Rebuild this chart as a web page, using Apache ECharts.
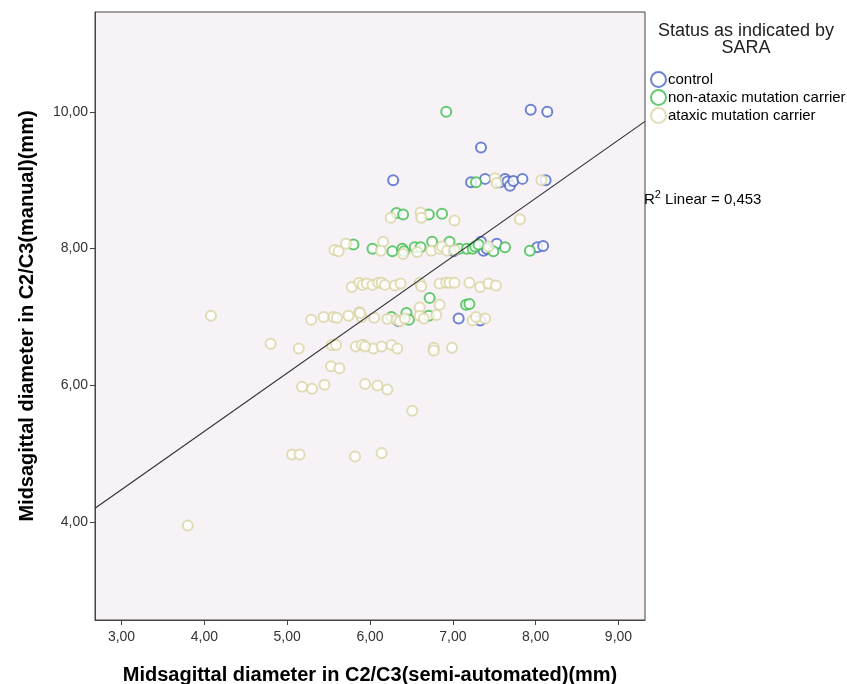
<!DOCTYPE html>
<html><head><meta charset="utf-8">
<script src="https://cdn.jsdelivr.net/npm/echarts@6/dist/echarts.min.js"></script>
<style>html,body{margin:0;padding:0;background:#fff}#c{width:847px;height:684px}</style>
</head><body><div id="c"></div>
<script>
const xTicks = [3, 4, 5, 6, 7, 8, 9];
const yTicks = [4, 6, 8, 10];
const seriesNames = ['control', 'non-ataxic mutation carrier', 'ataxic mutation carrier'];
const control = [[7.94,10.03],[8.14,10.0],[7.34,9.48],[6.28,9.0],[7.22,8.97],[7.39,9.02],[7.57,8.97],[7.63,9.02],[7.66,8.98],[7.69,8.92],[7.73,8.99],[7.84,9.02],[8.12,9.0],[7.01,7.96],[7.30,8.05],[7.34,8.10],[7.37,7.97],[7.41,8.0],[7.53,8.07],[8.02,8.02],[8.09,8.04],[6.34,6.94],[7.07,6.98],[7.33,6.95]];
const nonAtaxic = [[6.92,10.0],[7.28,8.97],[6.32,8.52],[6.40,8.50],[6.71,8.50],[6.87,8.51],[5.80,8.06],[6.03,8.0],[6.27,7.96],[6.39,8.0],[6.41,7.96],[6.54,8.02],[6.61,8.02],[6.75,8.10],[6.96,8.10],[7.08,8.0],[7.17,8.0],[7.24,8.0],[7.27,8.03],[7.31,8.06],[7.49,7.96],[7.63,8.02],[7.93,7.97],[6.72,7.28],[7.16,7.18],[7.20,7.19],[6.26,7.0],[6.44,7.06],[6.47,6.96],[6.71,7.02]];
const ataxic = [[4.08,7.02],[4.80,6.61],[5.14,6.54],[5.29,6.96],[5.44,7.0],[5.56,7.0],[5.60,6.99],[5.74,7.02],[5.87,7.07],[5.90,7.0],[6.05,6.99],
[5.54,6.59],[5.59,6.59],[5.83,6.57],[5.92,6.59],[6.04,6.54],[5.53,6.28],[5.63,6.25],
[5.18,5.98],[5.30,5.95],[5.45,6.01],[5.94,6.02],[6.09,6.0],[6.21,5.94],[6.51,5.63],
[5.06,4.99],[5.15,4.99],[5.82,4.96],[6.14,5.01],[3.80,3.95],
[5.57,7.98],[5.62,7.96],[5.71,8.07],[6.16,8.10],[6.13,7.97],[6.40,7.92],[6.57,7.95],[6.74,7.97],[6.84,8.0],[6.87,8.03],[6.93,7.97],[7.02,7.98],[7.43,8.03],
[5.78,7.44],[5.87,7.50],[5.91,7.47],[5.96,7.49],[6.03,7.47],[6.10,7.50],[6.14,7.50],[6.18,7.47],[6.30,7.46],[6.37,7.49],[6.60,7.50],[6.62,7.45],[6.84,7.49],[6.92,7.50],[6.96,7.50],[7.02,7.50],[7.20,7.50],[7.33,7.44],[7.43,7.49],[7.52,7.46],
[6.84,7.18],[6.60,7.14],[5.88,7.06],[6.21,6.97],[6.32,6.96],[6.36,6.94],[6.42,6.98],[6.60,7.02],[6.65,6.98],[6.80,7.03],[7.24,6.95],[7.28,7.0],[7.39,6.98],
[5.90,6.59],[5.94,6.57],[6.14,6.57],[6.26,6.59],[6.33,6.54],[6.77,6.55],[6.77,6.51],[6.99,6.55],
[6.25,8.45],[6.61,8.53],[6.62,8.45],[7.02,8.41],[7.81,8.43],
[7.51,9.03],[7.53,8.96],[8.07,9.0]];
const fitIntercept = 1.92, fitSlope = 0.852;
const xMin = 2.68, xMax = 9.32, yMin = 2.57, yMax = 11.46;
const fitLine = [[xMin, fitIntercept + fitSlope * xMin], [xMax, fitIntercept + fitSlope * xMax]];
const colors = ['#4a64c9', '#3dbd4c', '#d9d4a3'];
const fmt = v => v.toFixed(2).replace('.', ',');
const chart = echarts.init(document.getElementById('c'));
const axisCommon = {
  axisLine: {show: true, onZero: false, lineStyle: {color: '#444', width: 1}},
  axisTick: {show: true, length: 5, lineStyle: {color: '#444'}},
  splitLine: {show: false},
  axisLabel: {color: '#333', fontSize: 14, fontFamily: 'Liberation Sans', formatter: fmt},
  nameTextStyle: {color: '#000', fontSize: 20, fontWeight: 'bold', fontFamily: 'Liberation Sans'}
};
const scatter = (name, data, color) => ({
  name, type: 'scatter', data, symbol: 'emptyCircle', symbolSize: 10,
  itemStyle: {color: color, borderColor: color, borderWidth: 1.4},
  emphasis: {disabled: true}
});
chart.setOption({
  animation: false,
  grid: {left: 95, right: 202, top: 12, bottom: 64, outerBoundsMode: 'none', containLabel: false, show: true, backgroundColor: '#f6f2f6', borderColor: '#444', borderWidth: 1},
  xAxis: Object.assign({}, axisCommon, {
    type: 'value', min: xMin, max: xMax,
    axisTick: Object.assign({}, axisCommon.axisTick, {customValues: xTicks}),
    axisLabel: Object.assign({}, axisCommon.axisLabel, {customValues: xTicks, margin: 10}),
    name: 'Midsagittal diameter in C2/C3(semi-automated)(mm)', nameLocation: 'middle', nameGap: 45
  }),
  yAxis: Object.assign({}, axisCommon, {
    type: 'value', min: yMin, max: yMax,
    axisTick: Object.assign({}, axisCommon.axisTick, {customValues: yTicks}),
    axisLabel: Object.assign({}, axisCommon.axisLabel, {customValues: yTicks, margin: 7}),
    name: 'Midsagittal diameter in C2/C3(manual)(mm)', nameLocation: 'middle', nameGap: 58
  }),
  legend: {
    orient: 'vertical', left: 645, top: 66, itemGap: 1, itemWidth: 17, itemHeight: 15,
    data: seriesNames.map(n => ({name: n, icon: 'emptyCircle'})),
    textStyle: {color: '#000', fontSize: 15, fontFamily: 'Liberation Sans', padding: [0, 0, 0, -4]},
    selectedMode: false
  },
  graphic: [
    {type: 'text', x: 746, y: 23, silent: true,
     style: {text: 'Status as indicated by\nSARA', align: 'center', verticalAlign: 'top', font: '18px "Liberation Sans"', fill: '#222', lineHeight: 17}},
    {type: 'text', x: 644, y: 189, silent: true,
     style: {text: '{r|R}{s|2}{r| Linear = 0,453}', rich: {r: {fontSize: 15, fontFamily: 'Liberation Sans', color: '#000', verticalAlign: 'bottom'}, s: {fontSize: 11, fontFamily: 'Liberation Sans', color: '#000', verticalAlign: 'top', padding: [0, 0, 7, 0]}}}}
  ],
  series: [
    scatter(seriesNames[0], control, colors[0]),
    scatter(seriesNames[1], nonAtaxic, colors[1]),
    scatter(seriesNames[2], ataxic, colors[2]),
    {type: 'line', data: fitLine, symbol: 'none', silent: true, lineStyle: {color: '#333', width: 1.2}, z: 5}
  ]
});
</script></body></html>
